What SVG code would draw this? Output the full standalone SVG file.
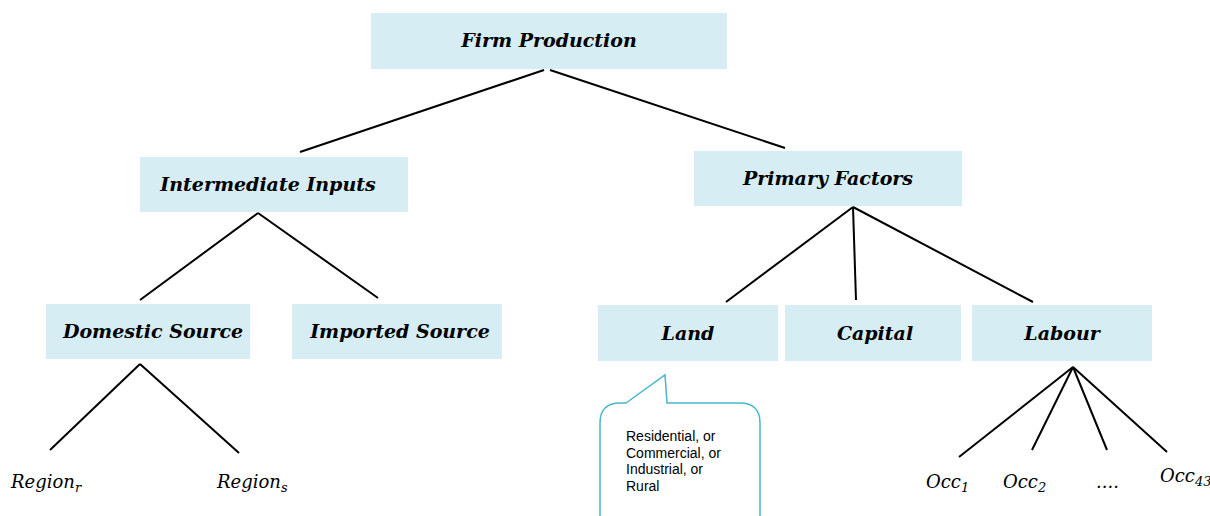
<svg xmlns="http://www.w3.org/2000/svg" width="1210" height="516" viewBox="0 0 1210 516">
<style>
.box{fill:#D6EDF4;}
.lbl{font-family:"DejaVu Serif","Liberation Serif",serif;font-weight:bold;font-style:italic;font-size:19px;fill:#000;text-anchor:middle;}
.math{font-family:"DejaVu Serif","Liberation Serif",serif;font-style:italic;font-size:18px;fill:#000;}
.sub{font-size:13px;}
.conn line{stroke:#000;stroke-width:2;}
.note{font-family:"Liberation Sans",Arial,sans-serif;font-size:14px;fill:#000;}
</style>
<rect width="1210" height="516" fill="#fff"/>
<g id="connectors" class="conn">
<line x1="544" y1="70" x2="300" y2="152"/>
<line x1="550" y1="70" x2="785" y2="148"/>
<line x1="258" y1="213" x2="140" y2="300"/>
<line x1="258" y1="213" x2="378" y2="298"/>
<line x1="853" y1="207" x2="726" y2="302"/>
<line x1="853" y1="207" x2="856" y2="300"/>
<line x1="853" y1="207" x2="1033" y2="302"/>
<line x1="140" y1="364" x2="50" y2="450"/>
<line x1="140" y1="364" x2="239" y2="453"/>
<line x1="1073" y1="367" x2="959" y2="457"/>
<line x1="1073" y1="367" x2="1032" y2="450"/>
<line x1="1073" y1="367" x2="1107" y2="450"/>
<line x1="1073" y1="367" x2="1167" y2="452"/>
</g>
<g id="firm-production"><rect class="box" x="371" y="13" width="356" height="56"/><text class="lbl" x="549" y="47">Firm Production</text></g>
<g id="intermediate-inputs"><rect class="box" x="140" y="157" width="268" height="55"/><text class="lbl" x="268" y="191">Intermediate Inputs</text></g>
<g id="primary-factors"><rect class="box" x="694" y="151" width="268" height="55"/><text class="lbl" x="828" y="185">Primary Factors</text></g>
<g id="domestic-source"><rect class="box" x="46" y="304" width="204" height="55"/><text class="lbl" x="153" y="338">Domestic Source</text></g>
<g id="imported-source"><rect class="box" x="292" y="304" width="210" height="55"/><text class="lbl" x="400" y="338">Imported Source</text></g>
<g id="land"><rect class="box" x="598" y="305" width="180" height="56"/><text class="lbl" x="688" y="340">Land</text></g>
<g id="capital"><rect class="box" x="785" y="305" width="176" height="56"/><text class="lbl" x="875" y="340">Capital</text></g>
<g id="labour"><rect class="box" x="972" y="305" width="180" height="56"/><text class="lbl" x="1062" y="340">Labour</text></g>
<g id="region-r"><text class="math" x="11" y="488">Region<tspan class="sub" dy="4">r</tspan></text></g>
<g id="region-s"><text class="math" x="217" y="488">Region<tspan class="sub" dy="4">s</tspan></text></g>
<g id="occ1"><text class="math" x="926" y="488">Occ<tspan class="sub" dy="4">1</tspan></text></g>
<g id="occ2"><text class="math" x="1003" y="488">Occ<tspan class="sub" dy="4">2</tspan></text></g>
<g id="occ-dots"><text class="math" x="1096" y="488">....</text></g>
<g id="occ43"><text class="math" x="1160" y="482">Occ<tspan class="sub" dy="4">43</tspan></text></g>
<g id="land-note">
<path d="M626,403 L665,375 L667,403 L740,403 Q760,403 760,423 L760,530 L600,530 L600,423 Q600,403 620,403 Z" fill="#fff" stroke="#4BB6CF" stroke-width="1.5"/>
<text class="note" x="626" y="441">Residential, or</text>
<text class="note" x="626" y="458">Commercial, or</text>
<text class="note" x="626" y="474">Industrial, or</text>
<text class="note" x="626" y="491">Rural</text>
</g>
</svg>
